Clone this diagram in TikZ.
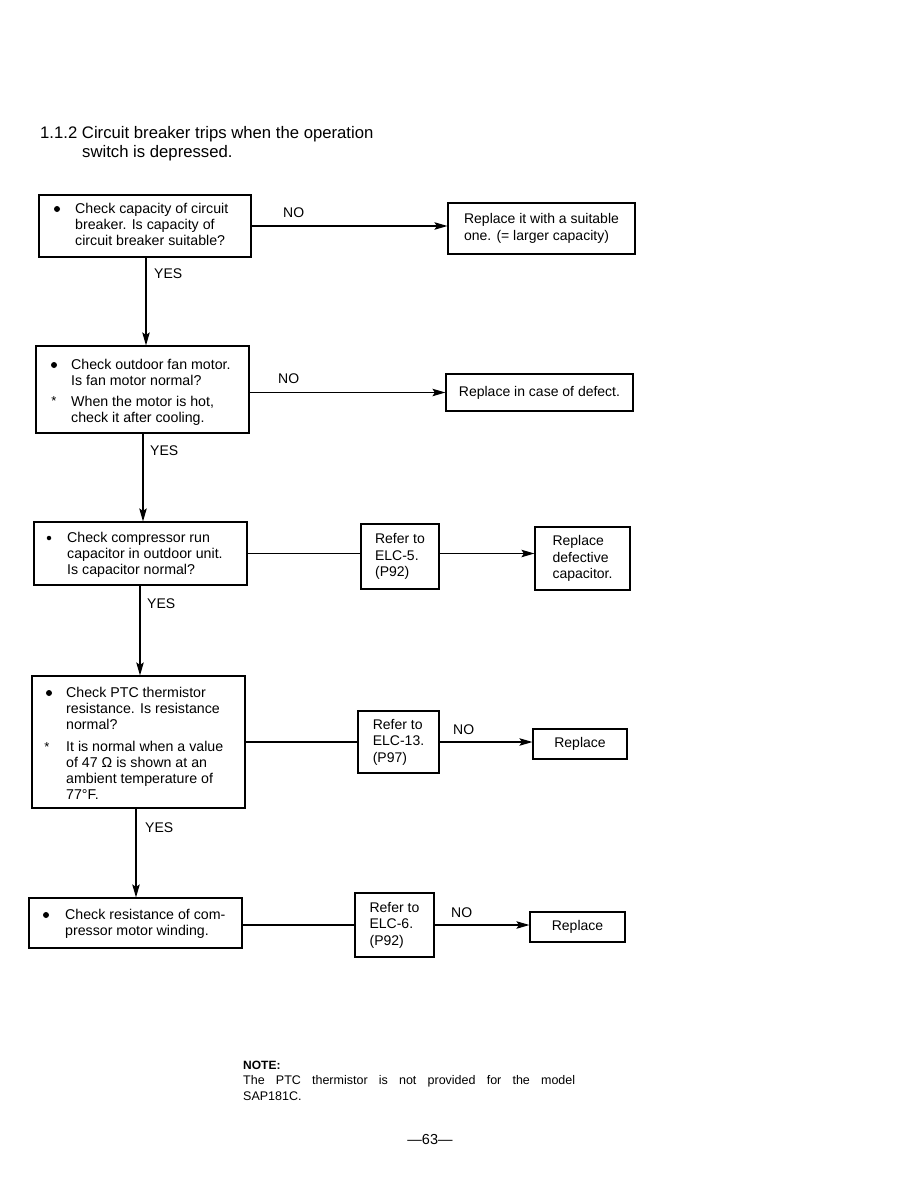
\documentclass[tikz,border=0pt]{standalone}
\usepackage{fontspec}
\setmainfont{Liberation Sans}
\usetikzlibrary{arrows.meta,calc}
\begin{document}
\begin{tikzpicture}[x=1pt,y=-1pt,
 box/.style={draw, line width=1.2pt, inner sep=0pt},
 txt/.style={anchor=north west, inner sep=0pt, align=left, font=\fontsize{14.2}{16}\selectfont},
 ctxt/.style={font=\fontsize{14}{16.5}\selectfont, align=left},
 bul/.style={circle, fill, inner sep=0pt, minimum size=6pt},
 star/.style={inner sep=0pt, font=\fontsize{13}{13}\selectfont},
 lbl/.style={anchor=west, inner sep=0pt, font=\fontsize{14}{16}\selectfont},
 arr/.style={line width=1.1pt, -{Stealth[length=13pt,width=7.5pt,inset=2.5pt]}},
 ln/.style={line width=1.1pt}]
\fill[white] (0,0) rectangle (918,1188);
\useasboundingbox (0,0) rectangle (918,1188);

% title
\node[anchor=west, inner sep=0pt, font=\fontsize{16.7}{20}\selectfont] (title1) at (40,134) {1.1.2 Circuit breaker trips when the operation};
\node[anchor=west, inner sep=0pt, font=\fontsize{16.7}{20}\selectfont] (title2) at (82,153) {switch is depressed.};

% boxes
\node[box, minimum width=212pt, minimum height=62pt] (c1) at (145,226) {};
\node[box, minimum width=187pt, minimum height=51pt, ctxt] (r1) at (541.5,228.5) {Replace it with a suitable\\one. (= larger capacity)};
\node[box, minimum width=213pt, minimum height=87pt] (c2) at (142.5,389.5) {};
\node[box, minimum width=187pt, minimum height=37pt, ctxt] (r2) at (539.5,392.5) {Replace in case of defect.};
\node[box, minimum width=213pt, minimum height=63pt] (c3) at (140.5,553.5) {};
\node[box, minimum width=78pt, minimum height=65pt, ctxt] (f3) at (400,556.5) {Refer to\\ELC-5.\\(P92)};
\node[box, minimum width=95pt, minimum height=63pt, ctxt] (r3) at (582.5,558.5) {Replace\\defective\\capacitor.};
\node[box, minimum width=213pt, minimum height=132pt] (c4) at (138.5,742) {};
\node[box, minimum width=81pt, minimum height=62pt, ctxt] (f4) at (398.5,742) {Refer to\\ELC-13.\\(P97)};
\node[box, minimum width=94pt, minimum height=30pt, ctxt] (r4) at (580,744) {Replace};
\node[box, minimum width=213pt, minimum height=50pt] (c5) at (135.5,923) {};
\node[box, minimum width=79pt, minimum height=64pt, ctxt] (f5) at (394.5,925) {Refer to\\ELC-6.\\(P92)};
\node[box, minimum width=95pt, minimum height=30pt, ctxt] (r5) at (577.5,927) {Replace};

% texts in check boxes
\node[bul] (b1) at (57,209) {};
\node[txt] (t1) at (75,203) {Check capacity of circuit\\breaker. Is capacity of\\circuit breaker suitable?};
\node[bul] (b2) at (54,365) {};
\node[txt] (t2) at (71,359) {Check outdoor fan motor.\\Is fan motor normal?};
\node[star] (s2) at (54,401) {*};
\node[txt] (t2b) at (71,396) {When the motor is hot,\\check it after cooling.};
\node[bul, minimum size=4.5pt] (b3) at (49,538) {};
\node[txt] (t3) at (67,532) {Check compressor run\\capacitor in outdoor unit.\\Is capacitor normal?};
\node[bul] (b4) at (49,693) {};
\node[txt] (t4) at (66,687) {Check PTC thermistor\\resistance. Is resistance\\normal?};
\node[star] (s4) at (47,747) {*};
\node[txt] (t4b) at (66,741) {It is normal when a value\\of 47 Ω is shown at an\\ambient temperature of\\77°F.};
\node[bul] (b5) at (46,915) {};
\node[txt] (t5) at (65,909) {Check resistance of com-\\pressor motor winding.};

% YES connectors
\coordinate (x1) at (146,0);
\coordinate (x2) at (143,0);
\coordinate (x3) at (140,0);
\coordinate (x4) at (136,0);
\draw[arr] (c1.south -| x1) -- (c2.north -| x1);
\draw[arr] (c2.south -| x2) -- (c3.north -| x2);
\draw[arr] (c3.south -| x3) -- (c4.north -| x3);
\draw[arr] (c4.south -| x4) -- (c5.north -| x4);
\node[lbl] (y1) at (154,274) {YES};
\node[lbl] (y2) at (150,451) {YES};
\node[lbl] (y3) at (147,604) {YES};
\node[lbl] (y4) at (145,828) {YES};

% NO connectors
\draw[arr] (c1.east) -- (c1.east -| r1.west);
\node[lbl] (n1) at (283,213) {NO};
\draw[arr] (r2.west -| c2.east) -- (r2.west);
\node[lbl] (n2) at (278,379) {NO};
\draw[ln] (c3.east) -- (c3.east -| f3.west);
\draw[arr] (f3.east |- c3.east) -- (r3.west |- c3.east);
\draw[ln] (c4.east) -- (c4.east -| f4.west);
\draw[arr] (f4.east |- c4.east) -- (c4.east -| r4.west);
\node[lbl] (n4) at (453,730) {NO};
\draw[ln] (f5.west -| c5.east) -- (f5.west);
\draw[arr] (f5.east) -- (f5.east -| r5.west);
\node[lbl] (n5) at (451,913) {NO};

% note
\node[anchor=west, inner sep=0pt, font=\fontsize{12}{14}\selectfont\bfseries] (note) at (243,1065) {NOTE:};
\node[anchor=north west, inner sep=0pt, align=left, font=\fontsize{12.5}{16}\selectfont] (notet) at (243,1075) {\makebox[332pt][s]{The PTC thermistor is not provided for the model}\\SAP181C.};
\node[inner sep=0pt, font=\fontsize{14.5}{16}\selectfont] (page) at (430,1139) {—63—};
\end{tikzpicture}
\end{document}
